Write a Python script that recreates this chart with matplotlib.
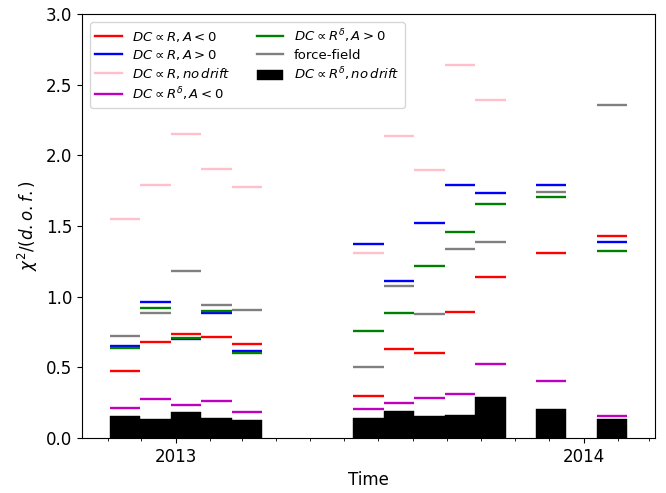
import numpy as np
import pandas as pd
import matplotlib
matplotlib.use("Agg")
import matplotlib.pyplot as plt
import matplotlib.dates as mdates

# Time intervals: first interval start, interval length (days) and interval numbers
first_start = '2012-11-03'
period_days = 27.25
rotation = [0, 1, 2, 3, 4, 8, 9, 10, 11, 12, 14, 16]
x_range = ['2012-10-09', '2014-03-06']

red_R_Aneg = [0.472, 0.682, 0.734, 0.715, 0.663, 0.300, 0.630, 0.602, 0.892, 1.137, 1.309, 1.427]
blue_R_Apos = [0.653, 0.960, 0.700, 0.882, 0.618, 1.375, 1.113, 1.522, 1.790, 1.734, 1.788, 1.387]
pink_R_nodrift = [1.550, 1.788, 2.151, 1.901, 1.774, 1.307, 2.137, 1.897, 2.640, 2.392, np.nan, np.nan]
mag_Rd_Aneg = [0.212, 0.278, 0.231, 0.260, 0.182, 0.208, 0.248, 0.283, 0.314, 0.521, 0.403, 0.153]
green_Rd_Apos = [0.635, 0.920, 0.710, 0.899, 0.599, 0.755, 0.885, 1.215, 1.456, 1.656, 1.708, 1.321]
gray_ff = [0.720, 0.882, 1.182, 0.941, 0.906, 0.502, 1.076, 0.875, 1.335, 1.390, 1.743, 2.354]
black_Rd_nodrift = [0.156, 0.134, 0.184, 0.142, 0.127, 0.144, 0.193, 0.156, 0.163, 0.292, 0.205, 0.134]

t0 = mdates.date2num(pd.Timestamp(first_start).to_pydatetime())
x0 = t0 + np.array(rotation) * period_days
x1 = x0 + period_days

fig = plt.figure(figsize=(6.66, 4.93), dpi=100)
ax = fig.add_axes([82/666, 55/493, (655-82)/666, (438-14)/493])

bars = ax.bar(x0, black_Rd_nodrift, width=period_days, align='edge', color='black',
              edgecolor='black', linewidth=0.3,
              label=r'$DC \propto R^{\delta}, no\,drift$')

series = [
    (red_R_Aneg, 'red', r'$DC \propto R, A<0$'),
    (blue_R_Apos, 'blue', r'$DC \propto R, A>0$'),
    (pink_R_nodrift, 'pink', r'$DC \propto R, no\,drift$'),
    (mag_Rd_Aneg, 'm', r'$DC \propto R^{\delta}, A<0$'),
    (green_Rd_Apos, 'green', r'$DC \propto R^{\delta}, A>0$'),
    (gray_ff, 'gray', 'force-field'),
]
handles = []
for vals, col, lab in series:
    ax.hlines(vals, x0, x1, colors=col, linewidth=1.7)
    h, = ax.plot([], [], color=col, linewidth=1.7, label=lab)
    handles.append(h)
handles.append(bars)

ax.xaxis_date()
xl = mdates.date2num(pd.to_datetime(x_range).to_pydatetime())
ax.set_xlim(xl[0], xl[1])
ax.xaxis.set_major_locator(mdates.YearLocator())
ax.xaxis.set_major_formatter(mdates.DateFormatter('%Y'))
ax.xaxis.set_minor_locator(mdates.MonthLocator())
ax.set_ylim(0, 3.0)
ax.tick_params(axis='both', which='major', labelsize=12)
ax.set_xlabel('Time', fontsize=12)
ax.set_ylabel(r'$\chi^2/(d.o.f.)$', fontsize=12)

ax.legend(handles=handles, ncol=2, loc='upper left', fontsize=9.5,
          labelspacing=0.3, borderaxespad=0.6)

fig.savefig('out.png', dpi=100)
